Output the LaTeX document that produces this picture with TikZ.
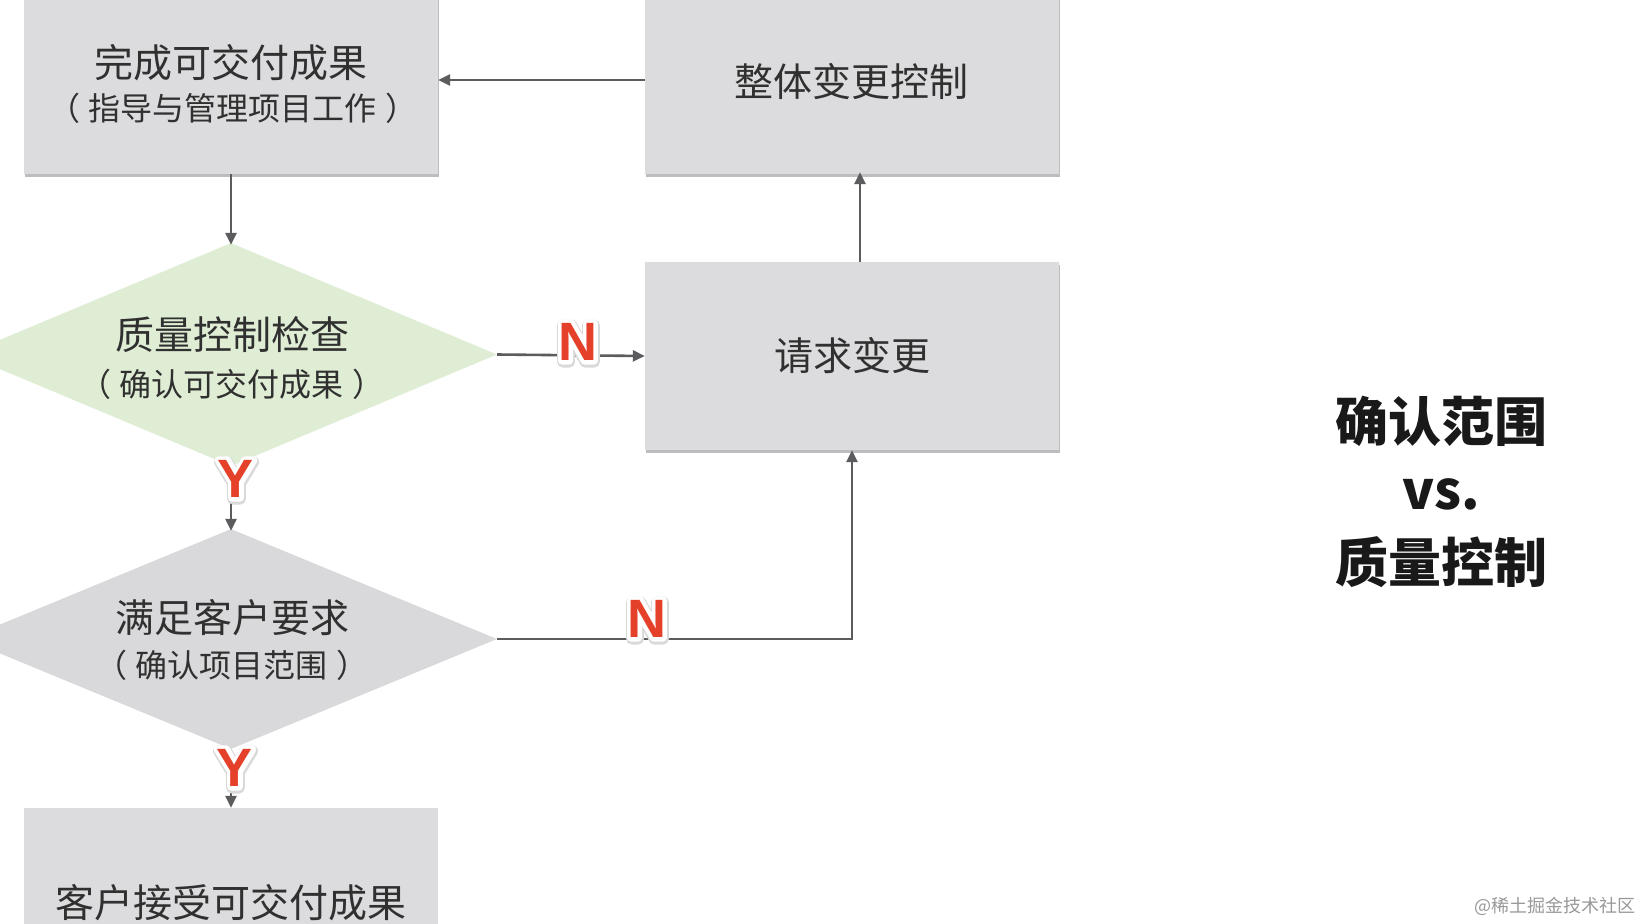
\documentclass[tikz,border=0pt]{standalone}
\usepackage{fontspec}
\newfontfamily\cjk{Noto Sans CJK SC}
\newfontfamily\ynfont{Liberation Sans}
\newfontfamily\ynfontfat[FakeBold=15]{Liberation Sans}
\newfontfamily\ynfontshadow[FakeBold=20]{Liberation Sans}
\usetikzlibrary{shapes.geometric,arrows.meta,calc}
\definecolor{boxfill}{HTML}{DCDCDE}
\definecolor{boxshadow}{HTML}{BDBDBF}
\definecolor{greenfill}{HTML}{DEEDD4}
\definecolor{grayfill}{HTML}{D9D9DB}
\definecolor{txt}{HTML}{303030}
\definecolor{arrowc}{HTML}{5C5C5E}
\definecolor{ynred}{HTML}{E5412A}
\newcommand\lpar{（\hspace{9pt}}
\newcommand\rpar{\hspace{9pt}）}
\tikzset{
  box/.style={rectangle, fill=boxfill, inner sep=0pt, minimum width=414pt},
  boxsh/.style={rectangle, fill=boxshadow, inner sep=0pt, minimum width=414pt},
  dia/.style={diamond, inner sep=0pt, minimum width=532pt},
  big/.style={text=txt, inner sep=0pt, font=\cjk\fontsize{39}{39}\selectfont},
  small/.style={text=txt, inner sep=0pt, font=\cjk\fontsize{32}{32}\selectfont},
  side/.style={text=black!90, inner sep=0pt, font=\cjk\bfseries\fontsize{53}{53}\selectfont},
  arr/.style={draw=arrowc, line width=2.6pt, -{Triangle[length=12pt,width=11pt]}},
  yn/.style={text=ynred, inner sep=0pt, font=\ynfont\bfseries\fontsize{54}{54}\selectfont},
  ynout/.style={text=white, inner sep=0pt, line join=round, font=\ynfontfat\bfseries\fontsize{54}{54}\selectfont},
  ynsh/.style={text=black!15, inner sep=0pt, line join=round, font=\ynfontshadow\bfseries\fontsize{54}{54}\selectfont},
}
\newcommand\ynlabel[3]{%
  \node[ynsh] (#1s) at ($(#2)+(0.5,1.5)$) {#3};
  \node[ynout] (#1o) at (#2) {#3};
  \node[yn] (#1) at (#2) {#3};}
\begin{document}
\begin{tikzpicture}[x=1pt,y=-1pt]
\useasboundingbox (0,0) rectangle (1642,924);
\clip (0,0) rectangle (1642,924);
\fill[white] (0,0) rectangle (1642,924);

% boxes with shadows
\node[boxsh, minimum height=188pt] (b1s) at (232,82.5) {};
\node[box, minimum height=188pt] (b1) at (231,80) {};
\node[boxsh, minimum height=188pt] (b2s) at (853,82.5) {};
\node[box, minimum height=188pt] (b2) at (852,80) {};
\node[boxsh, minimum height=188pt] (b3s) at (853,358.5) {};
\node[box, minimum height=188pt] (b3) at (852,356) {};
\node[box, minimum height=140pt] (b4) at (231,878) {};

% diamonds
\node[dia, fill=greenfill, minimum height=223pt] (d1) at (231,354.5) {};
\node[dia, fill=grayfill, minimum height=220pt] (d2) at (231,639) {};

% texts
\node[big] (t1a) at (231,63) {完成可交付成果};
\node[small] (t1b) at (233,108) {\lpar 指导与管理项目工作\rpar};
\node[big] (t2) at (851,82) {整体变更控制};
\node[big] (t3) at (852,356) {请求变更};
\node[big] (t4a) at (232,335) {质量控制检查};
\node[small] (t4b) at (232,384) {\lpar 确认可交付成果\rpar};
\node[big] (t5a) at (232,618) {满足客户要求};
\node[small] (t5b) at (232,665) {\lpar 确认项目范围\rpar};
\node[big] (t6) at (231,903) {客户接受可交付成果};

% right side
\node[side] (s1) at (1441,421) {确认范围};
\node[side] (s2) at (1441,494) {vs.};
\node[side] (s3) at (1441,562) {质量控制};

% watermark
\node[text=black!40, inner sep=0pt, font=\cjk\fontsize{18}{18}\selectfont] (wm) at (1555,906) {@稀土掘金技术社区};

% connectors
\draw[arr] (b2.west) -- (b1.east);
\draw[arr] (b1.south) -- ([yshift=-2pt]d1.north);
\draw[arr] (d1.east) -- (b3.west);
\draw[arr] (d1.south) -- ([yshift=-2pt]d2.north);
\draw[arr] (d2.east) -| (b3.south);
\draw[arr] ([xshift=8pt]b3.north) -- ([xshift=8pt,yshift=2pt]b2.south);
\draw[arr] (d2.south) -- (b4.north);

% Y / N labels
\ynlabel{n1}{578,342}{N}
\ynlabel{n2}{647,619}{N}
\ynlabel{y1}{236,479}{Y}
\ynlabel{y2}{235,768}{Y}
\end{tikzpicture}
\end{document}
